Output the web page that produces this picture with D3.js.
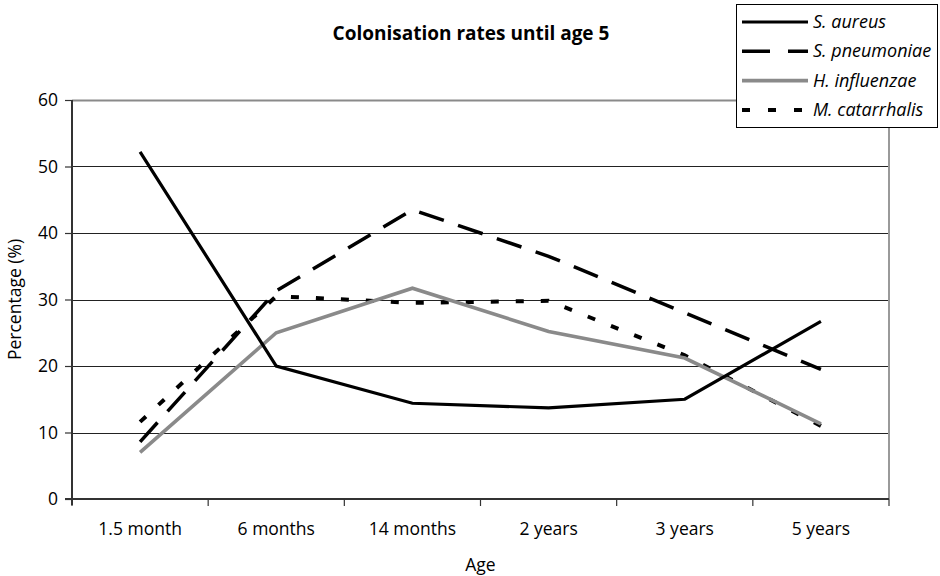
<!DOCTYPE html>
<html lang="en">
<head>
  <meta charset="UTF-8">
  <title>Colonisation rates until age 5</title>
  <script src="https://d3js.org/d3.v7.min.js"></script>
  <style>
    html, body {
      margin: 0;
      padding: 0;
      background: #fff;
    }
    svg text {
      font-family: "Open Sans", sans-serif;
      fill: #000;
    }
    .line {
      fill: none;
    }
  </style>
</head>
<body>
  <div id="container"></div>
  <script>
    const width = 940;
    const height = 576;

    // plot area, in page pixels
    const margin = {top: 100, right: 51, bottom: 77, left: 72};

    const ages = ['1.5 month', '6 months', '14 months', '2 years', '3 years', '5 years'];
    const yTicks = [0, 10, 20, 30, 40, 50, 60];

    const aureus = [52.2, 20.0, 14.4, 13.7, 15.0, 26.7];
    const pneumoniae = [8.6, 31.3, 43.5, 36.5, 28.0, 19.5];
    const influenzae = [7.0, 25.0, 31.7, 25.2, 21.2, 11.3];
    const catarrhalis = [11.6, 30.5, 29.5, 29.8, 21.6, 11.0];

    const seriesNames = ['S. aureus', 'S. pneumoniae', 'H. influenzae', 'M. catarrhalis'];
    const seriesValues = [aureus, pneumoniae, influenzae, catarrhalis];

    const styles = [
      {stroke: '#000', width: 3.2, dash: ''},
      {stroke: '#000', width: 3.5, dash: '26 15'},
      {stroke: '#8a8a8a', width: 3.6, dash: ''},
      {stroke: '#000', width: 4, dash: '8 17'}
    ];

    const svg = d3.select('#container').append('svg')
      .attr('width', width).attr('height', height);

    const innerW = width - margin.left - margin.right;
    const innerH = height - margin.top - margin.bottom;

    const g = svg.append('g').attr('transform', `translate(${margin.left},${margin.top})`);

    const xScale = d3.scalePoint().domain(ages).range([0, innerW]).padding(0.5);
    const xBand = d3.scaleBand().domain(ages).range([0, innerW]);
    const yScale = d3.scaleLinear().domain([0, 60]).range([innerH, 0]);

    // gridlines
    g.append('g').selectAll('line').data(yTicks.filter(d => d > 0)).join('line')
      .attr('x1', 0).attr('x2', innerW)
      .attr('y1', d => Math.round(yScale(d)) + 0.5).attr('y2', d => Math.round(yScale(d)) + 0.5)
      .attr('stroke', d => d === 60 ? '#8a8a8a' : '#222')
      .attr('stroke-width', d => d === 60 ? 2 : 1);

    // right border of plot area
    g.append('line')
      .attr('x1', innerW).attr('x2', innerW).attr('y1', 0).attr('y2', innerH)
      .attr('stroke', '#9a9a9a').attr('stroke-width', 2);

    // Create Axes
    const yAxis = d3.axisLeft(yScale).tickValues(yTicks).tickSize(7).tickPadding(7);
    const xAxis = d3.axisBottom(xBand).tickSize(0).tickPadding(24);

    const yg = g.append('g').attr('class', 'y-axis').call(yAxis);
    yg.select('.domain').attr('stroke', '#333').attr('stroke-width', 2).attr('d', `M0,0V${innerH + 6}`);
    yg.selectAll('.tick line').attr('stroke', '#333').attr('stroke-width', 1.2);
    yg.selectAll('text').style('font-size', '17.5px');

    const xg = g.append('g').attr('class', 'x-axis').attr('transform', `translate(0,${innerH})`).call(xAxis);
    xg.select('.domain').attr('stroke', '#333').attr('stroke-width', 2).attr('d', `M-7,0H${innerW}`);
    xg.selectAll('text').style('font-size', '17.5px');

    // category boundary ticks
    xg.append('g').selectAll('line').data(ages.concat(['end'])).join('line')
      .attr('x1', (d, i) => i * xBand.step()).attr('x2', (d, i) => i * xBand.step())
      .attr('y1', 0).attr('y2', 7)
      .attr('stroke', '#333').attr('stroke-width', 1.2);

    // Create the Line Generator
    const line = d3.line().x((d, i) => xScale(ages[i])).y(d => yScale(d));

    const drawOrder = [3, 2, 1, 0];
    g.append('g').selectAll('path').data(drawOrder).join('path')
      .attr('class', 'line')
      .attr('d', i => line(seriesValues[i]))
      .attr('stroke', i => styles[i].stroke)
      .attr('stroke-width', i => styles[i].width)
      .attr('stroke-dasharray', i => styles[i].dash)
      .attr('stroke-linejoin', 'miter');

    // titles
    svg.append('text')
      .attr('x', 471).attr('y', 40)
      .attr('text-anchor', 'middle')
      .style('font-size', '19px').style('font-weight', 'bold')
      .text('Colonisation rates until age 5');

    svg.append('text')
      .attr('x', margin.left + innerW / 2).attr('y', 571)
      .attr('text-anchor', 'middle')
      .style('font-size', '17.5px')
      .text('Age');

    svg.append('text')
      .attr('transform', `translate(21,${margin.top + innerH / 2}) rotate(-90)`)
      .attr('text-anchor', 'middle')
      .style('font-size', '17.5px')
      .text('Percentage (%)');

    // Legend
    const legend = svg.append('g').attr('transform', 'translate(736,4)');
    legend.append('rect')
      .attr('x', 0.5).attr('y', 0.5).attr('width', 201).attr('height', 123)
      .attr('fill', '#fff').attr('stroke', '#000').attr('stroke-width', 1);

    const rows = legend.selectAll('.row').data(seriesNames).join('g')
      .attr('class', 'row')
      .attr('transform', (d, i) => `translate(6,${18 + i * 29.3})`);

    rows.append('line')
      .attr('x1', 0).attr('x2', 66).attr('y1', 0).attr('y2', 0)
      .attr('stroke', (d, i) => styles[i].stroke)
      .attr('stroke-width', (d, i) => styles[i].width)
      .attr('stroke-dasharray', (d, i) => i === 1 ? '28 18' : i === 3 ? '8 18' : '');

    rows.append('text')
      .attr('x', 71).attr('y', 6)
      .style('font-size', '18px').style('font-style', 'italic')
      .text(d => d);
  </script>
</body>
</html>
